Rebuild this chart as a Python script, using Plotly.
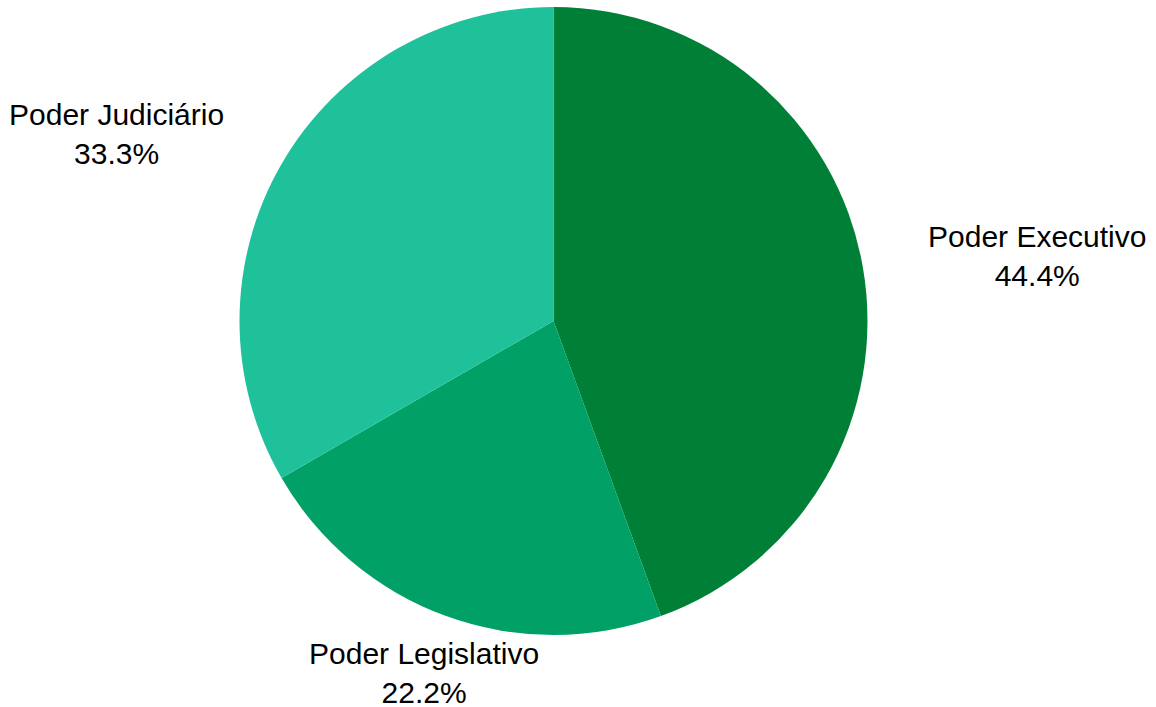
import math
import plotly.graph_objects as go

labels = ["Poder Executivo", "Poder Legislativo", "Poder Judiciário"]
values = [4, 2, 3]
colors = ["#008037", "#00a066", "#1fc19b"]

W, H = 1156, 707
ML, MR, MT, MB = 0, 49, 7, 72
pw, ph = W - ML - MR, H - MT - MB
R = min(pw, ph) / 2.0
label_rx = 1.205 * R
label_ry = 1.193 * R

fig = go.Figure(
    go.Pie(
        labels=labels,
        values=values,
        sort=False,
        direction="clockwise",
        rotation=0,
        marker=dict(colors=colors, line=dict(width=0)),
        textinfo="none",
        showlegend=False,
        hoverinfo="label+percent",
    )
)

total = float(sum(values))
cum = 0.0
annotations = []
for lab, v in zip(labels, values):
    mid = (cum + v / 2.0) / total * 2 * math.pi
    cum += v
    sx, cy = math.sin(mid), math.cos(mid)
    x = 0.5 + label_rx * sx / pw
    y = 0.5 + label_ry * cy / ph
    if sx > 0.5:
        xa = "left"
    elif sx < -0.5:
        xa = "right"
    else:
        xa = "center"
    pct = v / total * 100
    annotations.append(
        dict(
            x=x, y=y, xref="paper", yref="paper",
            xanchor=xa, yanchor="middle", align="center",
            text=f"{lab}<br>{pct:.1f}%",
            showarrow=False,
            font=dict(family="Liberation Sans, Arial, sans-serif", size=30, color="#000000"),
        )
    )

fig.update_layout(
    width=W,
    height=H,
    margin=dict(l=ML, r=MR, t=MT, b=MB),
    paper_bgcolor="white",
    plot_bgcolor="white",
    annotations=annotations,
)
fig.write_html("out.html")
